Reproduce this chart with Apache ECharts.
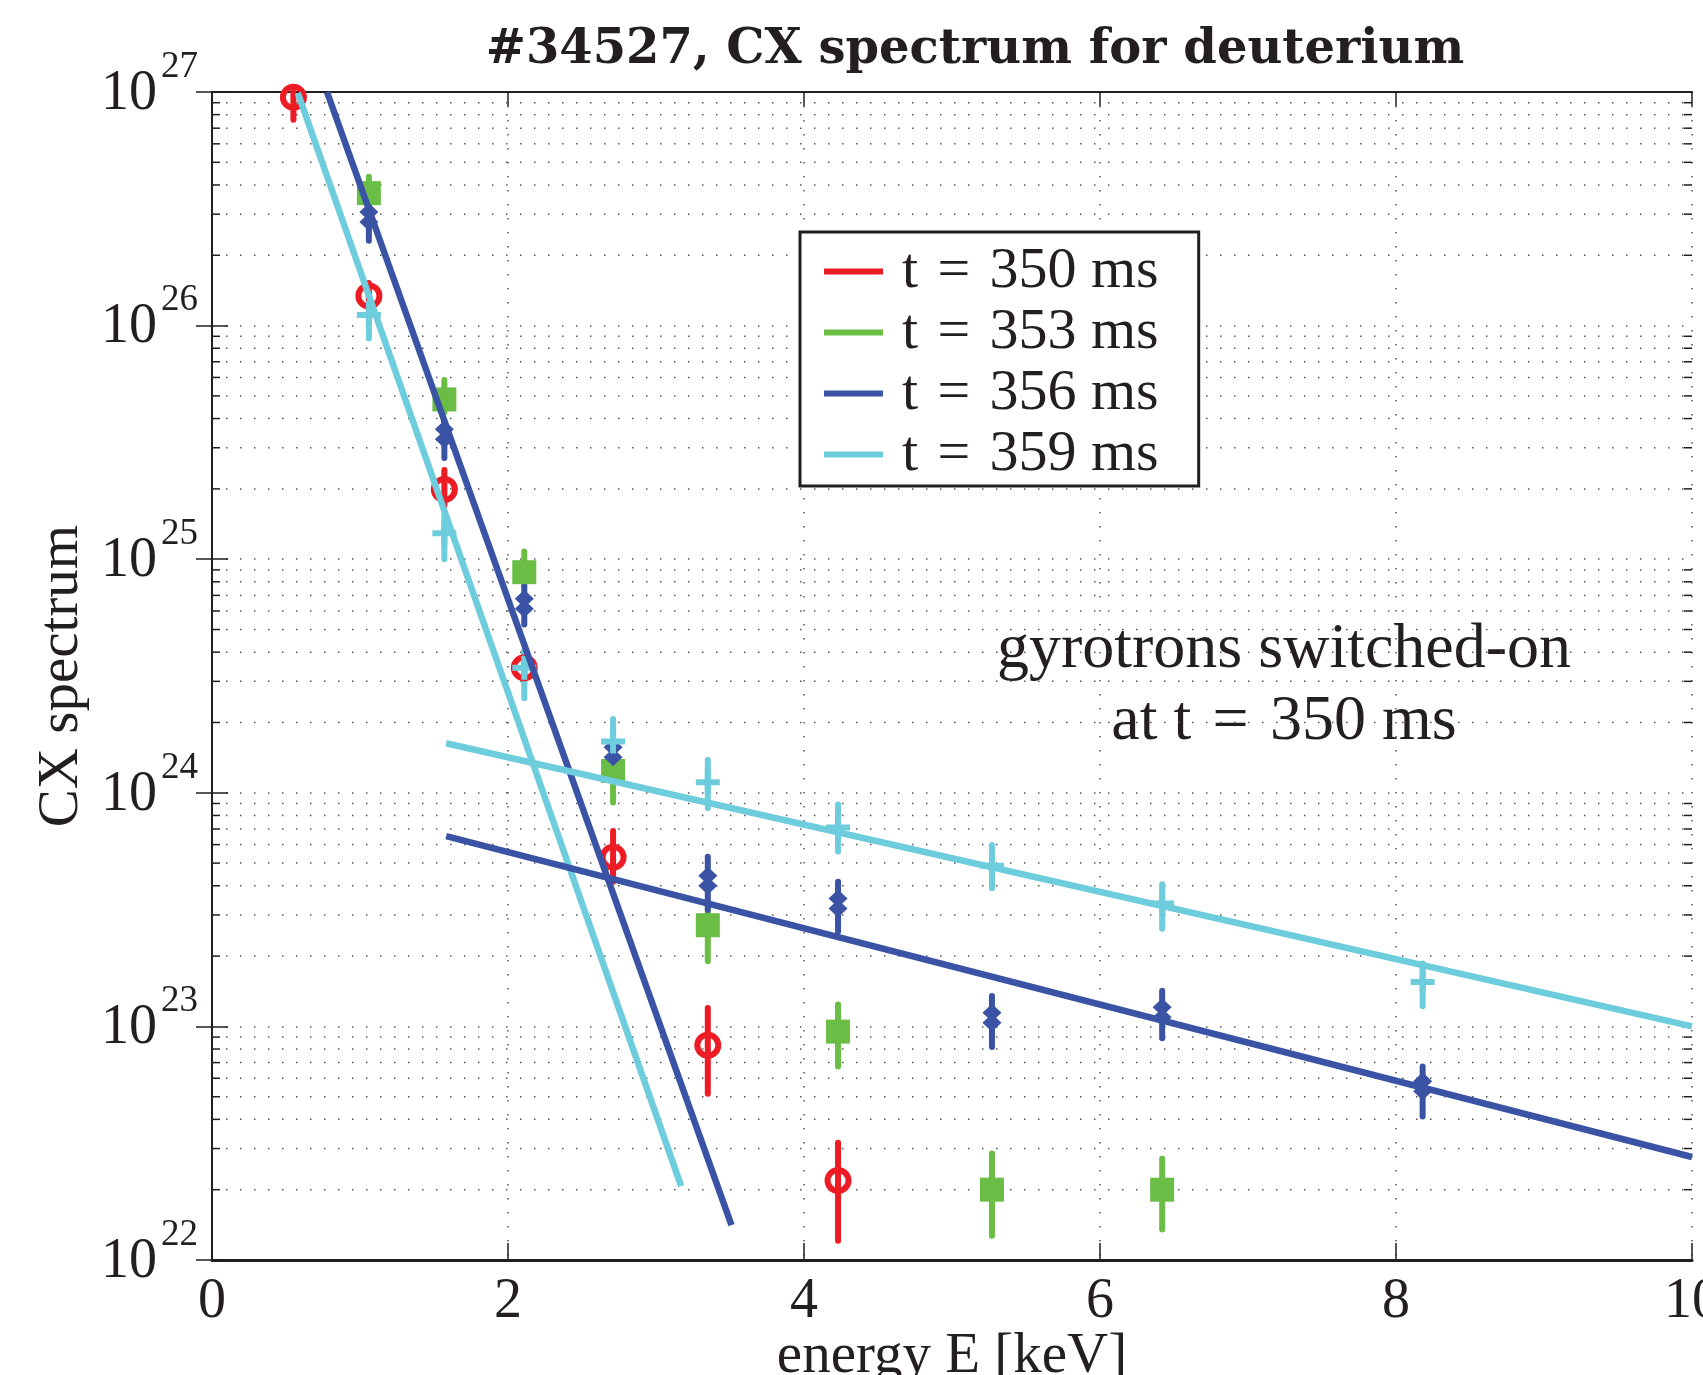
<!DOCTYPE html>
<html><head><meta charset="utf-8">
<script src="https://cdn.jsdelivr.net/npm/echarts@6/dist/echarts.min.js"></script>
<style>html,body{margin:0;padding:0;background:#fff}#c{width:1703px;height:1375px}</style>
</head><body><div id="c"></div>
<script>
// ---- data ----
const xTickLabels = ['0','2','4','6','8','10'];
const yTickExponents = ['22','23','24','25','26','27'];
const minorMantissas = [2,3,4,5,6,7,8,9];
const minorDecades = [22,23,24,25,26];

const t350E  = [0.55, 1.06, 1.57, 2.11, 2.71, 3.35, 4.23];
const t350V  = [9.5e26, 1.34e26, 1.99e25, 3.43e24, 5.3e23, 8.3e22, 2.19e22];
const t350Lo = [7.6e26, 1.17e26, 1.69e25, 2.98e24, 4.16e23, 5.15e22, 1.21e22];
const t350Hi = [1.0e27, 1.52e26, 2.41e25, 4.03e24, 6.87e23, 1.2e23, 3.18e22];

const t353E  = [1.06, 1.57, 2.11, 2.71, 3.35, 4.23, 5.27, 6.42];
const t353V  = [3.69e26, 4.83e25, 8.8e24, 1.24e24, 2.71e23, 9.5e22, 2.0e22, 2.0e22];
const t353Lo = [3.25e26, 4.25e25, 7.66e24, 9.08e23, 1.9e23, 6.73e22, 1.27e22, 1.35e22];
const t353Hi = [4.34e26, 5.85e25, 1.08e25, 1.46e24, 3.43e23, 1.24e23, 2.86e22, 2.71e22];

const t356E  = [1.06, 1.57, 2.11, 2.71, 3.35, 4.23, 5.27, 6.42, 8.18];
const t356V  = [2.92e26, 3.43e25, 6.44e24, 1.49e24, 4.2e23, 3.36e23, 1.09e23, 1.15e23, 5.55e22];
const t356Lo = [2.31e26, 2.71e25, 5.26e24, 1.28e24, 3.15e23, 2.54e23, 8.17e22, 8.9e22, 4.11e22];
const t356Hi = [3.32e26, 3.9e25, 7.66e24, 1.71e24, 5.32e23, 4.16e23, 1.35e23, 1.42e23, 6.73e22];

const t359E  = [1.06, 1.57, 2.11, 2.71, 3.35, 4.23, 5.27, 6.42, 8.18];
const t359V  = [1.11e26, 1.29e25, 3.43e24, 1.66e24, 1.11e24, 7.1e23, 4.87e23, 3.36e23, 1.55e23];
const t359Lo = [8.8e25, 1.0e25, 2.54e24, 1.25e24, 8.6e23, 5.61e23, 3.9e23, 2.62e23, 1.22e23];
const t359Hi = [1.25e26, 1.57e25, 4.06e24, 2.07e24, 1.38e24, 8.9e23, 5.98e23, 4.06e23, 1.86e23];

const fit359SteepE = [0.58, 3.17];   const fit359SteepV = [9.9e26, 2.07e22];
const fit356SteepE = [0.777, 3.51];  const fit356SteepV = [1.0e27, 1.41e22];
const fit359FlatE  = [1.582, 10];    const fit359FlatV  = [1.63e24, 1.0e23];
const fit356FlatE  = [1.582, 10];    const fit356FlatV  = [6.53e23, 2.76e22];

const names = ['t\u2004=\u2004350 ms', 't\u2004=\u2004353 ms', 't\u2004=\u2004356 ms', 't\u2004=\u2004359 ms'];

// ---- styles ----
const RED = '#ED1C24', GREEN = '#6ABD45', BLUE = '#3A53A4', CYAN = '#6DCDDD';
const INK = '#231f20';
const FONT = "'Liberation Serif', 'Times New Roman', serif";
const DOT = [1.5, 12.5];
const GRIDC = '#555';

const minorVals = [];
minorDecades.forEach(d => minorMantissas.forEach(m => minorVals.push(m * Math.pow(10, d))));

function pairs(E, V) { return E.map((e, i) => [e, V[i]]); }
function errSeries(E, lo, hi, color) {
  return {
    type: 'custom', coordinateSystem: 'cartesian2d', z: 3, silent: true,
    data: E.map((e, i) => [e, lo[i], hi[i]]),
    encode: { x: 0, y: [1, 2] },
    renderItem(params, api) {
      const a = api.coord([api.value(0), api.value(1)]);
      const b = api.coord([api.value(0), api.value(2)]);
      return { type: 'line', shape: { x1: a[0], y1: a[1], x2: b[0], y2: b[1] },
               style: { stroke: color, lineWidth: 6, lineCap: 'round' } };
    }
  };
}
function fitSeries(E, V, color) {
  return { type: 'line', data: pairs(E, V), symbol: 'none', silent: true, z: 5,
           lineStyle: { color: color, width: 6.5 }, itemStyle: { color: color } };
}
const PLUS = 'path://M-3,-12L3,-12L3,-3L12,-3L12,3L3,3L3,12L-3,12L-3,3L-12,3L-12,-3L-3,-3Z';
const DDIAMOND = 'path://M0,-14L9,-5L0,4L-9,-5Z M0,-4L9,5L0,14L-9,5Z';

const chart = echarts.init(document.getElementById('c'), null, { renderer: 'canvas' });
chart.setOption({
  animation: false,
  backgroundColor: '#fff',
  grid: { left: 212, right: 11, top: 92, bottom: 115, containLabel: false, outerBoundsMode: 'none' },
  xAxis: [{
    type: 'value', min: 0, max: 10, interval: 2, position: 'bottom',
    axisLine: { show: true, lineStyle: { color: INK, width: 3 } },
    axisTick: { show: true, inside: true, length: 17, lineStyle: { color: INK, width: 1.5 } },
    axisLabel: { margin: 14, fontFamily: FONT, fontSize: 56, lineHeight: 56, color: INK,
                 formatter: (v) => xTickLabels[Math.round(v / 2)] },
    splitLine: { show: true, lineStyle: { type: DOT, color: GRIDC, width: 1.5 } },
    name: 'energy E [keV]', nameLocation: 'middle', nameGap: 69, nameMoveOverlap: false,
    nameTextStyle: { fontFamily: FONT, fontSize: 57, lineHeight: 57, color: INK }
  }, {
    type: 'value', min: 0, max: 10, interval: 2, position: 'top',
    axisLine: { show: true, lineStyle: { color: INK, width: 2 } },
    axisTick: { show: true, inside: true, length: 14, lineStyle: { color: INK, width: 1.5 } },
    axisLabel: { show: false }, splitLine: { show: false }
  }],
  yAxis: [{
    type: 'log', logBase: 10, min: 1e22, max: 1e27, position: 'left',
    axisLine: { show: true, lineStyle: { color: INK, width: 2 } },
    axisTick: { show: true, inside: true, length: 16, lineStyle: { color: INK, width: 1.5 } },
    minorTick: { show: false },
    axisLabel: {
      margin: 14, color: INK,
      formatter: (v) => {
        const e = Math.round(Math.log10(v));
        return '{s|' + yTickExponents[e - 22] + '}\n{b|10}{sp| }';
      },
      rich: {
        s: { fontFamily: FONT, fontSize: 37, lineHeight: 4, color: INK },
        b: { fontFamily: FONT, fontSize: 56, lineHeight: 50, color: INK },
        sp: { fontFamily: FONT, fontSize: 10, lineHeight: 50, width: 41 }
      }
    },
    splitLine: { show: true, lineStyle: { type: DOT, color: GRIDC, width: 1.5 } },
    name: 'CX spectrum', nameLocation: 'middle', nameGap: 121, nameRotate: 90, nameMoveOverlap: false,
    nameTextStyle: { fontFamily: FONT, fontSize: 57, lineHeight: 57, color: INK }
  }, {
    type: 'log', logBase: 10, min: 1e22, max: 1e27, position: 'right',
    axisLine: { show: true, lineStyle: { color: INK, width: 2 } },
    axisTick: { show: true, inside: true, length: 16, lineStyle: { color: INK, width: 1.5 } },
    axisLabel: { show: false }, splitLine: { show: false }
  }],
  legend: {
    orient: 'vertical', left: 800, top: 232, padding: [9, 40, 1, 24],
    itemGap: 0, itemWidth: 59, itemHeight: 6, icon: 'rect', selectedMode: false,
    borderColor: INK, borderWidth: 3, backgroundColor: '#fff',
    textStyle: { fontFamily: FONT, fontSize: 58, lineHeight: 61, color: INK, padding: [0, 0, 0, 14] },
    data: [
      { name: names[0], icon: 'rect', itemStyle: { color: RED, borderWidth: 0 } },
      { name: names[1], icon: 'rect', itemStyle: { color: GREEN, borderWidth: 0 } },
      { name: names[2], icon: 'rect', itemStyle: { color: BLUE, borderWidth: 0 } },
      { name: names[3], icon: 'rect', itemStyle: { color: CYAN, borderWidth: 0 } }
    ]
  },
  graphic: [
    { type: 'text', x: 975, y: 51, silent: true,
      style: { text: '#34527, CX spectrum for deuterium', font: 'bold 48px "DejaVu Serif"', fill: INK, align: 'center', verticalAlign: 'middle' } },
    { type: 'text', x: 1284, y: 650, silent: true,
      style: { text: 'gyrotrons switched-on', font: '64px "Liberation Serif"', fill: INK, align: 'center', verticalAlign: 'middle' } },
    { type: 'text', x: 1284, y: 722, silent: true,
      style: { text: 'at t\u2004=\u2004350 ms', font: '64px "Liberation Serif"', fill: INK, align: 'center', verticalAlign: 'middle' } }
  ],
  series: [
    {
      type: 'custom', coordinateSystem: 'cartesian2d', z: 1, silent: true,
      data: minorVals.map(v => [0, v]), encode: { x: 0, y: 1 },
      renderItem(params, api) {
        const v = api.value(1);
        const p = api.coord([0, v]), q = api.coord([10, v]);
        return { type: 'group', children: [
          { type: 'line', shape: { x1: p[0], y1: p[1], x2: q[0], y2: q[1] }, style: { stroke: GRIDC, lineWidth: 1.5, lineDash: DOT } },
          { type: 'line', shape: { x1: p[0], y1: p[1], x2: p[0] + 8, y2: p[1] }, style: { stroke: INK, lineWidth: 1.5 } },
          { type: 'line', shape: { x1: q[0] - 8, y1: q[1], x2: q[0], y2: q[1] }, style: { stroke: INK, lineWidth: 1.5 } }
        ] };
      }
    },
    errSeries(t350E, t350Lo, t350Hi, RED),
    { type: 'scatter', name: names[0], data: pairs(t350E, t350V), z: 3, symbol: 'circle', symbolSize: 21,
      itemStyle: { color: 'rgba(0,0,0,0)', borderColor: RED, borderWidth: 6, opacity: 1 } },
    errSeries(t353E, t353Lo, t353Hi, GREEN),
    { type: 'scatter', name: names[1], data: pairs(t353E, t353V), z: 3, symbol: 'rect', symbolSize: 24,
      itemStyle: { color: GREEN, opacity: 1 } },
    errSeries(t356E, t356Lo, t356Hi, BLUE),
    { type: 'scatter', name: names[2], data: pairs(t356E, t356V), z: 3, symbol: DDIAMOND, symbolSize: [19, 28],
      itemStyle: { color: BLUE, opacity: 1 } },
    errSeries(t359E, t359Lo, t359Hi, CYAN),
    { type: 'scatter', name: names[3], data: pairs(t359E, t359V), z: 3, symbol: PLUS, symbolSize: 24,
      itemStyle: { color: CYAN, opacity: 1 } },
    fitSeries(fit356SteepE, fit356SteepV, BLUE),
    fitSeries(fit359SteepE, fit359SteepV, CYAN),
    fitSeries(fit356FlatE, fit356FlatV, BLUE),
    fitSeries(fit359FlatE, fit359FlatV, CYAN)
  ]
});
</script></body></html>
